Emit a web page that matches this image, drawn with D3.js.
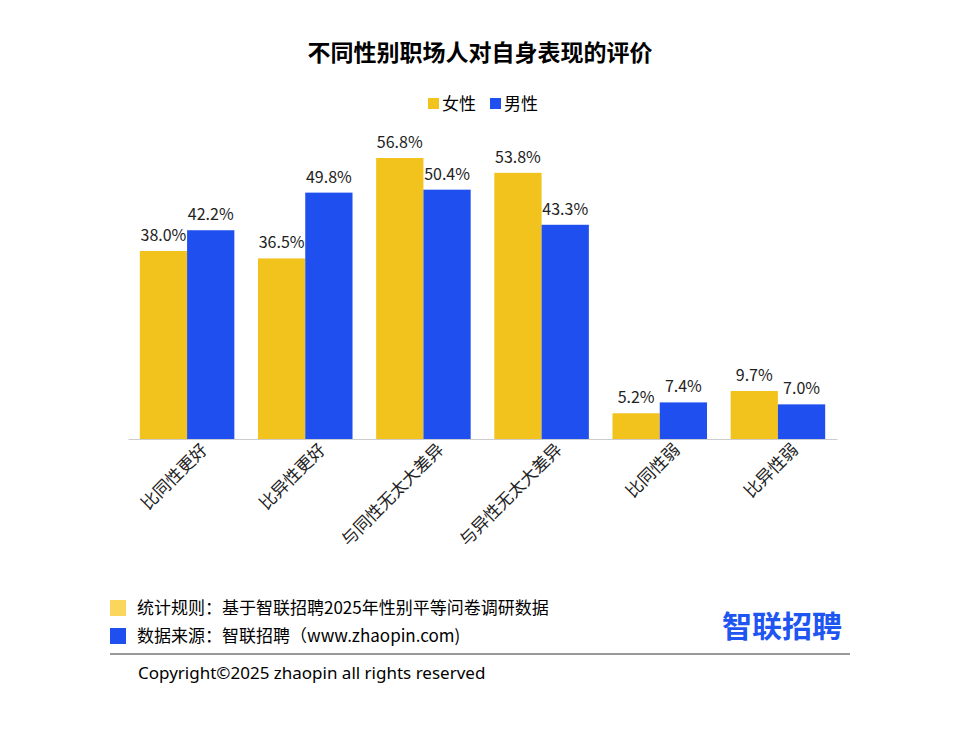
<!DOCTYPE html>
<html><head><meta charset="utf-8">
<script src="https://cdn.jsdelivr.net/npm/d3@7"></script>
<style>body{margin:0;background:#fff;font-family:"Noto Sans CJK SC","Noto Sans",sans-serif}</style>
</head><body><svg id="c" width="960" height="729"></svg>
<script>
var categories = ["比同性更好", "比异性更好", "与同性无太大差异", "与异性无太大差异", "比同性弱", "比异性弱"];
var female = [38.0, 36.5, 56.8, 53.8, 5.2, 9.7];
var male = [42.2, 49.8, 50.4, 43.3, 7.4, 7.0];
var seriesNames = ["女性", "男性"];
var colors = ["#F2C31C", "#1F4FEF"];

var svg = d3.select("#c");
var base = 439;
var x = d3.scaleBand().domain(categories).range([128, 837]).paddingInner(0.2).paddingOuter(0.1);
var x1 = d3.scaleBand().domain(seriesNames).range([0, x.bandwidth()]);
var y = d3.scaleLinear().domain([0, 56.8]).range([base, 158]);

svg.append("text").attr("x", 480).attr("y", 61).attr("text-anchor", "middle")
  .attr("font-size", 23).attr("font-weight", "bold").text("不同性别职场人对自身表现的评价");

// legend
seriesNames.forEach(function(n, i) {
  var lx = 428 + i * 62;
  svg.append("rect").attr("x", lx).attr("y", 98).attr("width", 11).attr("height", 11).attr("fill", colors[i]);
  svg.append("text").attr("x", lx + 14).attr("y", 110).attr("font-size", 17).text(n);
});

[female, male].forEach(function(vals, si) {
  var g = svg.append("g");
  g.selectAll("rect").data(vals).enter().append("rect")
    .attr("x", function(d, i) { return x(categories[i]) + x1(seriesNames[si]); })
    .attr("y", function(d) { return y(d); })
    .attr("width", x1.bandwidth())
    .attr("height", function(d) { return base - y(d); })
    .attr("fill", colors[si]);
  g.selectAll("text").data(vals).enter().append("text")
    .attr("x", function(d, i) { return x(categories[i]) + x1(seriesNames[si]) + x1.bandwidth() / 2; })
    .attr("y", function(d) { return y(d) - 10; })
    .attr("text-anchor", "middle").attr("font-size", 16).attr("fill", "#222")
    .text(function(d) { return d.toFixed(1) + "%"; });
});

var ax = svg.append("g").attr("transform", "translate(0," + base + ")")
  .call(d3.axisBottom(x).tickSize(0).tickSizeOuter(0));
ax.select(".domain").attr("stroke", "#ccc");
ax.selectAll("text").attr("font-size", 17).attr("fill", "#222")
  .attr("font-family", "Noto Sans CJK SC")
  .attr("text-anchor", "end").attr("dx", "0.4em").attr("dy", "1.2em")
  .attr("transform", "rotate(-45)");

// footer
svg.append("rect").attr("x", 110).attr("y", 600).attr("width", 16).attr("height", 16).attr("fill", "#FAD75A");
svg.append("text").attr("x", 137).attr("y", 614).attr("font-size", 17).text("统计规则：基于智联招聘2025年性别平等问卷调研数据");
svg.append("rect").attr("x", 110).attr("y", 628).attr("width", 16).attr("height", 16).attr("fill", colors[1]);
svg.append("text").attr("x", 137).attr("y", 642).attr("font-size", 17).text("数据来源：智联招聘（www.zhaopin.com)");
svg.append("text").attr("x", 842).attr("y", 637).attr("text-anchor", "end").attr("font-size", 30)
  .attr("font-weight", "bold").attr("fill", "#1F55F0").text("智联招聘");
svg.append("line").attr("x1", 110).attr("x2", 850).attr("y1", 654).attr("y2", 654).attr("stroke", "#333");
svg.append("text").attr("x", 138).attr("y", 679).attr("font-size", 17).attr("font-family", "Noto Sans").text("Copyright©2025 zhaopin all rights reserved");
</script></body></html>
